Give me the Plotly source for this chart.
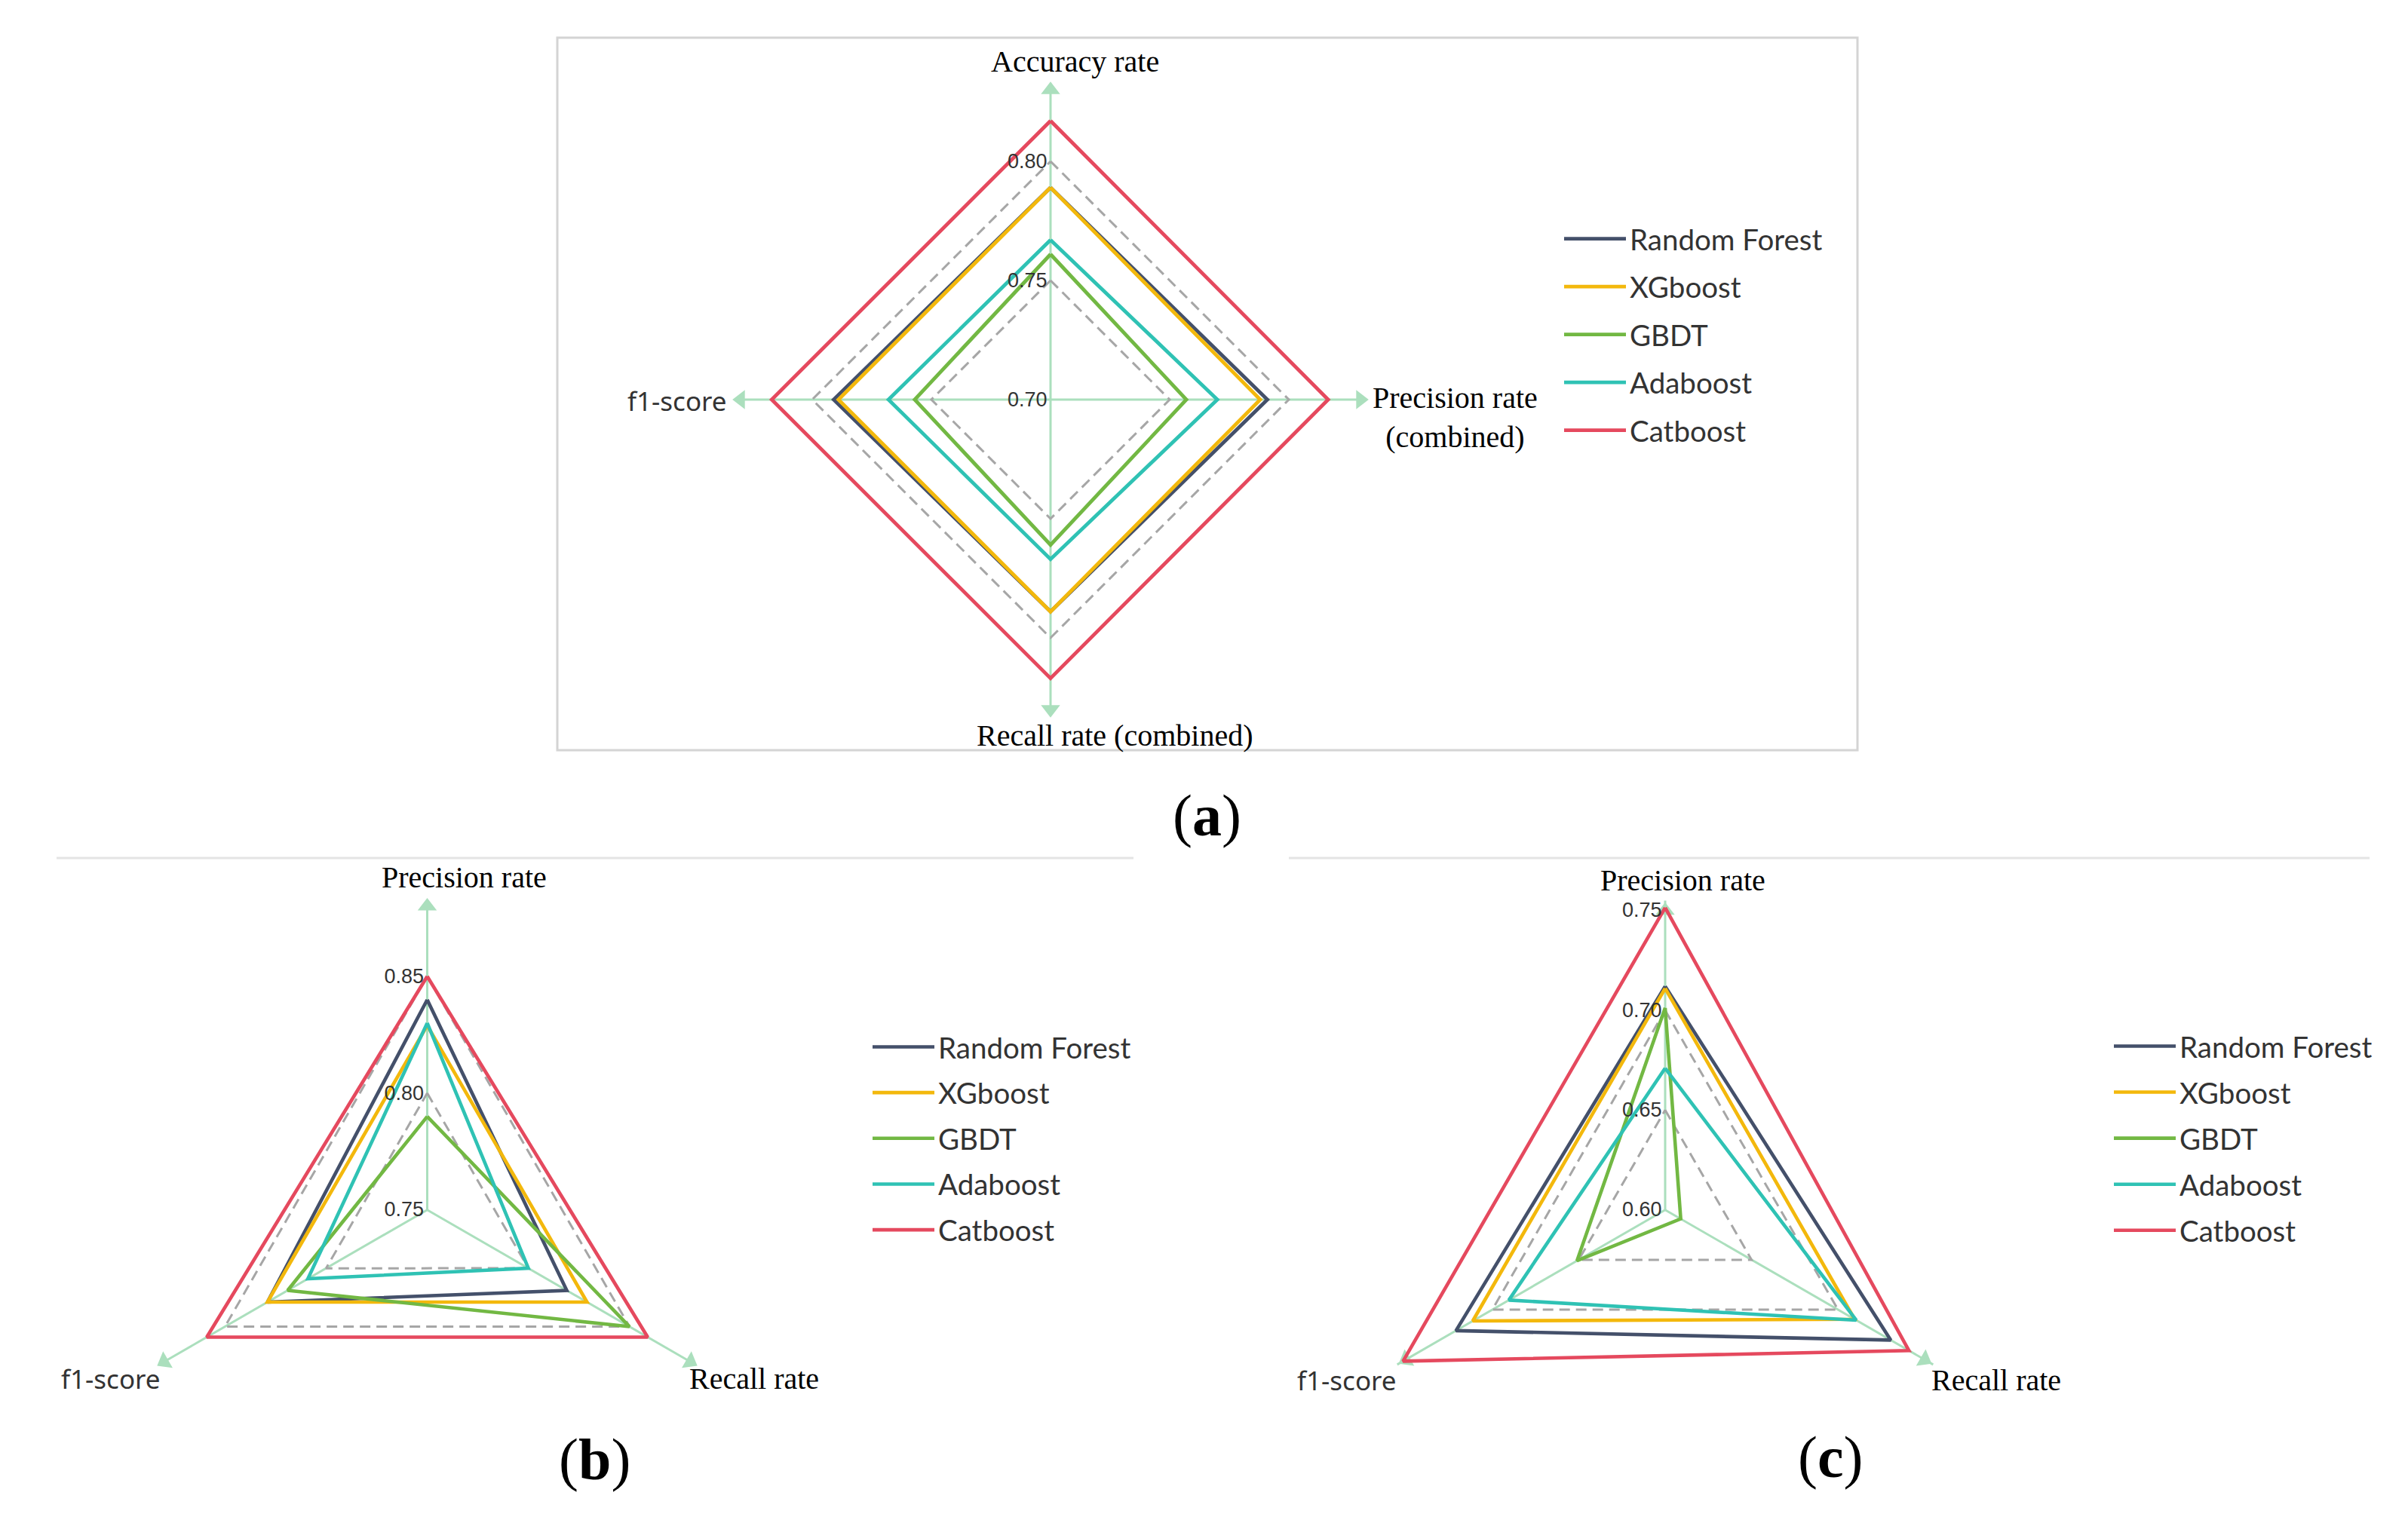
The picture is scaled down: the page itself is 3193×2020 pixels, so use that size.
import plotly.graph_objects as go

W, H = 3193, 2020

models = ["Random Forest", "XGboost", "GBDT", "Adaboost", "Catboost"]
colors = ["#44506a", "#f3b80c", "#72b843", "#2fc2b4", "#e5495e"]

# ---------------- Panel (a) ----------------
axes_a = ["Accuracy rate", "Precision rate<br>(combined)", "Recall rate (combined)", "f1-score"]
rf_a = [0.789, 0.791, 0.789, 0.791]
xgb_a = [0.789, 0.788, 0.789, 0.789]
gbdt_a = [0.761, 0.757, 0.761, 0.757]
ada_a = [0.767, 0.770, 0.767, 0.768]
cat_a = [0.817, 0.8165, 0.817, 0.817]
ticks_a = [0.70, 0.75, 0.80]
rings_a = [0.75, 0.80]
axis_end_a = 0.83
range_a = [0.70, 0.83]

# ---------------- Panel (b) ----------------
axes_b = ["Precision rate", "Recall rate", "f1-score"]
rf_b = [0.840, 0.819, 0.829]
xgb_b = [0.829, 0.829, 0.829]
gbdt_b = [0.790, 0.850, 0.819]
ada_b = [0.830, 0.800, 0.809]
cat_b = [0.850, 0.859, 0.859]
ticks_b = [0.75, 0.80, 0.85]
rings_b = [0.80, 0.85]
axis_end_b = 0.88
range_b = [0.75, 0.88]

# ---------------- Panel (c) ----------------
axes_c = ["Precision rate", "Recall rate", "f1-score"]
rf_c = [0.712, 0.7305, 0.721]
xgb_c = [0.711, 0.7096, 0.7113]
gbdt_c = [0.7012, 0.609, 0.651]
ada_c = [0.671, 0.7105, 0.6904]
cat_c = [0.7514, 0.741, 0.7516]
ticks_c = [0.60, 0.65, 0.70, 0.75]
rings_c = [0.65, 0.70]
axis_end_c = 0.75
range_c = [0.60, 0.755]

SPOKE = "#abdfbd"
GRID = "#a6a6a6"
SERIF = "Liberation Serif, Times New Roman, serif"
SANS = "Lato, Noto Sans, sans-serif"
NARROW = "Liberation Sans Narrow, Arial Narrow, Liberation Sans, sans-serif"


def X(px):
    return px / W


def Y(py):
    return 1 - py / H


# scale = pixels per radial unit for each panel
panels = [
    dict(key="a", polar="polar", legend="legend", axes=axes_a,
         series=[rf_a, xgb_a, gbdt_a, ada_a, cat_a], ticks=ticks_a, rings=rings_a,
         rng=range_a, end=axis_end_a, center=(1393, 530), scale=3160, lw=4.8),
    dict(key="b", polar="polar2", legend="legend2", axes=axes_b,
         series=[rf_b, xgb_b, gbdt_b, ada_b, cat_b], ticks=ticks_b, rings=rings_b,
         rng=range_b, end=axis_end_b, center=(566.5, 1604.7), scale=3097, lw=4.6),
    dict(key="c", polar="polar3", legend="legend3", axes=axes_c,
         series=[rf_c, xgb_c, gbdt_c, ada_c, cat_c], ticks=ticks_c, rings=rings_c,
         rng=range_c, end=axis_end_c, center=(2208, 1604.7), scale=2647, lw=4.6),
]

fig = go.Figure()
layout = {}

for p in panels:
    n = len(p["axes"])
    closed_theta = p["axes"] + [p["axes"][0]]
    # arrow heads at the end of each spoke
    fig.add_trace(go.Scatterpolar(
        r=[p["end"]] * n, theta=p["axes"], mode="markers",
        marker=dict(symbol="triangle-up", size=22, color=SPOKE,
                    angle=[360.0 * i / n for i in range(n)]),
        subplot=p["polar"], showlegend=False, hoverinfo="skip", cliponaxis=False))
    # dashed split rings
    for rv in p["rings"]:
        fig.add_trace(go.Scatterpolar(
            r=[rv] * (n + 1), theta=closed_theta, mode="lines",
            line=dict(color=GRID, width=3, dash="14px,8px"),
            subplot=p["polar"], showlegend=False, hoverinfo="skip", cliponaxis=False))
    for i, (name, vals) in enumerate(zip(models, p["series"])):
        fig.add_trace(go.Scatterpolar(
            r=vals + [vals[0]], theta=closed_theta,
            mode="lines", name=name, line=dict(color=colors[i], width=p["lw"]),
            subplot=p["polar"], legend=p["legend"], legendgroup=p["key"] + str(i),
            cliponaxis=False))
    cx, cy = p["center"]
    R = (p["rng"][1] - p["rng"][0]) * p["scale"]
    layout[p["polar"]] = dict(
        domain=dict(x=[X(cx - R), X(cx + R)], y=[Y(cy + R), Y(cy - R)]),
        gridshape="linear",
        bgcolor="rgba(0,0,0,0)",
        radialaxis=dict(range=p["rng"], tickvals=p["ticks"],
                        ticktext=[f"{t:.2f}" for t in p["ticks"]],
                        showline=False, showgrid=False, ticks="", angle=90,
                        side="counterclockwise", tickangle=90,
                        tickfont=dict(family=NARROW, size=27, color="#333333")),
        angularaxis=dict(rotation=90, direction="clockwise", showline=False,
                         showticklabels=False, ticks="", gridcolor=SPOKE, gridwidth=3),
    )

legend_common = dict(font=dict(family=SANS, size=38.5, color="#333333"),
                     itemwidth=82, bgcolor="rgba(0,0,0,0)", xanchor="left", yanchor="top",
                     traceorder="grouped")
layout["legend"] = dict(legend_common, x=X(2069), y=Y(285), tracegroupgap=10.5)
layout["legend2"] = dict(legend_common, x=X(1152), y=Y(1357), tracegroupgap=7.6)
layout["legend3"] = dict(legend_common, x=X(2798), y=Y(1356), tracegroupgap=8)

# axis name labels
label_pos = {
    "a": [(1425, 81), (1929, 553), (1478, 975), (898, 531)],
    "b": [(615, 1163), (1000, 1828), (147, 1828)],
    "c": [(2231, 1167), (2647, 1830), (1786, 1830)],
}
annotations = []
for p in panels:
    for name, (px, py) in zip(p["axes"], label_pos[p["key"]]):
        if name == "f1-score":
            font = dict(family="Noto Sans, sans-serif", size=35, color="#333333")
        else:
            font = dict(family=SERIF, size=40, color="#000000")
        annotations.append(dict(text=name, x=X(px), y=Y(py), xref="paper", yref="paper",
                                showarrow=False, xanchor="center", yanchor="middle",
                                font=font, align="center"))

for lab, (px, py) in zip(["a", "b", "c"], [(1600, 1081), (788, 1935), (2427, 1932)]):
    annotations.append(dict(text=f"(<b>{lab}</b>)", x=X(px), y=Y(py), xref="paper",
                            yref="paper", showarrow=False, xanchor="center", yanchor="middle",
                            font=dict(family=SERIF, size=78, color="#000000")))

shapes = [
    dict(type="rect", xref="paper", yref="paper", x0=X(739), x1=X(2463), y0=Y(995), y1=Y(50),
         line=dict(color="#d4d4d4", width=3)),
    dict(type="line", xref="paper", yref="paper", x0=X(75), x1=X(1503), y0=Y(1138), y1=Y(1138),
         line=dict(color="#e4e4e4", width=3)),
    dict(type="line", xref="paper", yref="paper", x0=X(1709), x1=X(3142), y0=Y(1138), y1=Y(1138),
         line=dict(color="#e4e4e4", width=3)),
]

fig.update_layout(
    width=W, height=H, margin=dict(l=0, r=0, t=0, b=0),
    paper_bgcolor="white", plot_bgcolor="white",
    annotations=annotations, shapes=shapes, showlegend=True,
    **layout,
)

fig.write_html("out.html", config={"displayModeBar": False},
               post_script="document.body.style.margin='0';")
